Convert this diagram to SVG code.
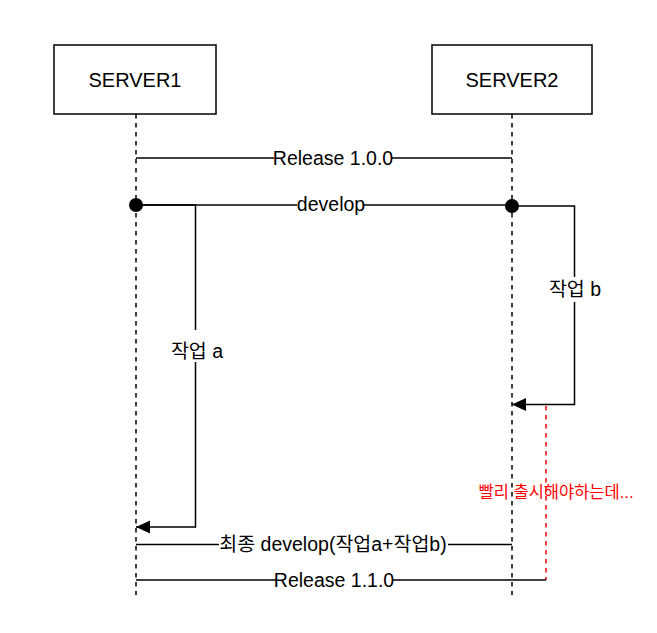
<svg xmlns="http://www.w3.org/2000/svg" width="657" height="633" viewBox="0 0 657 633">
<style>
.box{fill:#fff;stroke:#000;stroke-width:1.5}
.life{fill:none;stroke:#000;stroke-width:1.5;stroke-dasharray:4.5 4.5}
.msg{fill:none;stroke:#000;stroke-width:1.5}
.red{fill:none;stroke:#FF0000;stroke-width:1.5;stroke-dasharray:4.5 4.5}
.t{font-family:"Liberation Sans","Noto Sans CJK KR",sans-serif;fill:#000;text-anchor:middle}
.name{font-size:20px}
.lbl{font-size:19.5px}
.note{font-size:16.5px;fill:#FF0000}
.bg{fill:#fff}
</style>
<defs>
<marker id="arr" markerUnits="userSpaceOnUse" markerWidth="15" markerHeight="14" refX="14" refY="6.5" orient="auto">
<path d="M0,0 L14,6.5 L0,13 z" fill="#000"/>
</marker>
</defs>
<g id="server1">
<rect class="box" x="54" y="45" width="162" height="69"/>
<text class="t name" x="135" y="87">SERVER1</text>
<line class="life" x1="136" y1="114" x2="136" y2="595"/>
</g>
<g id="server2">
<rect class="box" x="432" y="45" width="160" height="69"/>
<text class="t name" x="512" y="87">SERVER2</text>
<line class="life" x1="512" y1="114" x2="512" y2="595"/>
</g>
<g id="connectors">
<line class="msg" x1="136" y1="158" x2="512" y2="158"/>
<line class="msg" x1="136" y1="205" x2="512" y2="205"/>
<path class="msg" d="M136,205 H195.5 V527 H136" marker-end="url(#arr)"/>
<path class="msg" d="M512,206 H574.5 V404.5 H512" marker-end="url(#arr)"/>
<line class="red" x1="546" y1="406" x2="546" y2="580"/>
<line class="msg" x1="136" y1="544.5" x2="512" y2="544.5"/>
<line class="msg" x1="136" y1="580" x2="546" y2="580"/>
<circle cx="136" cy="205" r="7" fill="#000"/>
<circle cx="512" cy="206" r="7" fill="#000"/>
</g>
<g id="labels">
<rect class="bg" x="274" y="148" width="118" height="20"/>
<text class="t lbl" x="333" y="165">Release 1.0.0</text>
<rect class="bg" x="297" y="195" width="67" height="20"/>
<text class="t lbl" x="331" y="211">develop</text>
<rect class="bg" x="168" y="330" width="58" height="32"/>
<text class="t lbl" x="197" y="358">작업 a</text>
<rect class="bg" x="547" y="277" width="57" height="25"/>
<text class="t lbl" x="575" y="296">작업 b</text>
<rect class="bg" x="219" y="534" width="229" height="22"/>
<text class="t lbl" x="333" y="551">최종 develop(작업a+작업b)</text>
<rect class="bg" x="276" y="570" width="117" height="20"/>
<text class="t lbl" x="334" y="587">Release 1.1.0</text>
<text class="t note" x="556" y="498">빨리 출시해야하는데...</text>
</g>
</svg>
